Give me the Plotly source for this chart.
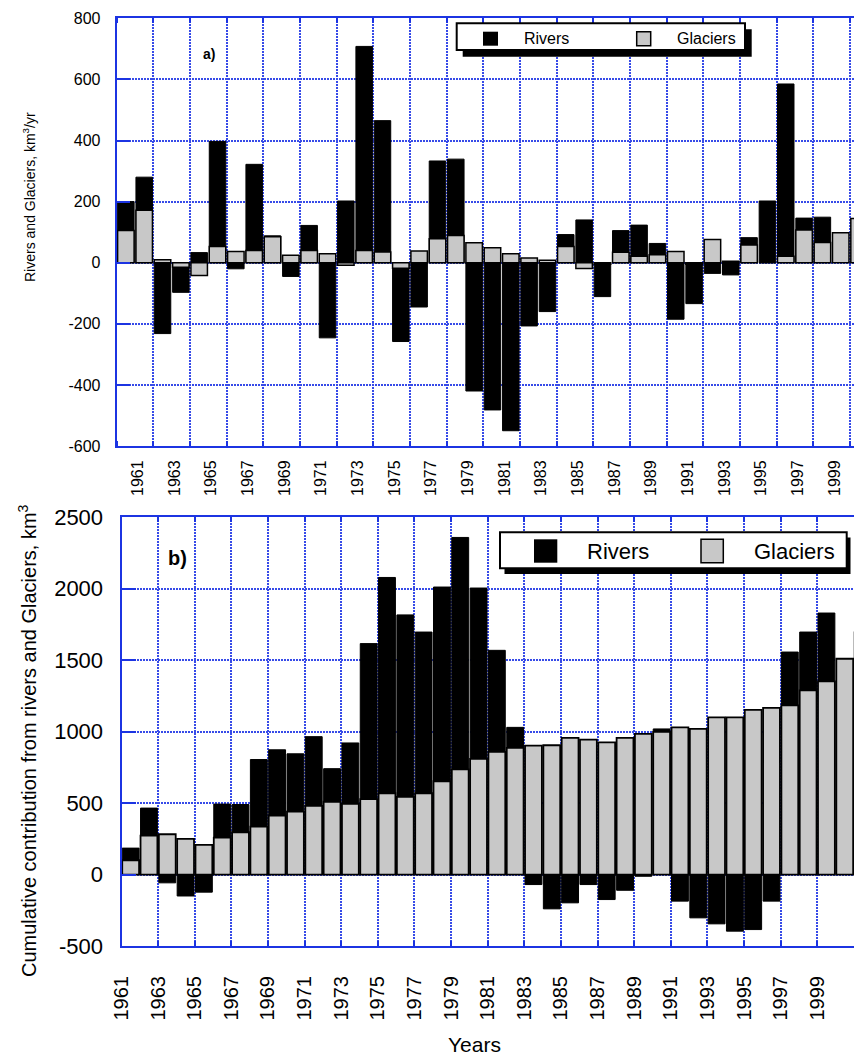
import plotly.graph_objects as go

# ---------------- data ----------------
years = list(range(1961, 2002))

# panel a: annual contributions, km3/yr
rivers_annual = [200, 280, -232, -97, 33, 397, -20, 322, 88, -45,
                 122, -246, 202, 708, 465, -258, -145, 333, 339, -420,
                 -482, -550, -207, -160, 92, 140, -111, 105, 123, 63,
                 -185, -134, -35, -40, 82, 202, 585, 146, 149, None, None]
glaciers_annual = [105, 172, 10, -15, -42, 53, 37, 40, 85, 24,
                   40, 29, -8, 40, 35, -18, 38, 78, 89, 65,
                   49, 29, 15, 8, 53, -19, -5, 34, 21, 26,
                   37, -5, 76, 5, 58, 0, 21, 107, 66, 98, 145]

# panel b: cumulative contributions, km3
rivers_cum = [185, 465, -58, -150, -123, 493, 490, 805, 873, 845,
              965, 741, 921, 1616, 2079, 1817, 1697, 2012, 2359, 2005,
              1569, 1030, -70, -240, -198, -70, -175, -110, -12, 1019,
              -186, -303, -345, -396, -385, -186, 1557, 1697, 1830, None, None]
glaciers_cum = [100, 273, 282, 250, 208, 259, 296, 336, 412, 440,
                481, 509, 495, 528, 569, 544, 569, 653, 736, 810,
                858, 886, 902, 905, 956, 944, 925, 956, 984, 998,
                1030, 1019, 1100, 1100, 1152, 1166, 1184, 1289, 1352, 1510, 1694]

label_years = list(range(1961, 2000, 2))
yticks_a = list(range(-600, 801, 200))
yticks_b = list(range(-500, 2501, 500))

# ---------------- styling ----------------
W, H = 862, 1055
OFF = 8  # page body margin
FONT = "Liberation Sans, Arial, Helvetica, sans-serif"
BLUE = "rgb(28,52,226)"
GRID = "rgb(55,75,232)"
GRAY = "#c8c8c8"
DASH = "2px,1px"


def px(x):
    return (x - OFF) / W


def py(y):
    return 1 - (y - OFF) / H


fig = go.Figure()

fig.add_trace(go.Bar(x=years, y=rivers_annual, name="Rivers", width=0.9,
                     marker=dict(color="black", line=dict(color="black", width=1)),
                     xaxis="x", yaxis="y", showlegend=False))
fig.add_trace(go.Bar(x=years, y=glaciers_annual, name="Glaciers", width=0.9,
                     marker=dict(color=GRAY, line=dict(color="black", width=1.5)),
                     xaxis="x", yaxis="y", showlegend=False))
fig.add_trace(go.Bar(x=years, y=rivers_cum, name="Rivers", width=0.92,
                     marker=dict(color="black", line=dict(color="black", width=1)),
                     xaxis="x2", yaxis="y2", showlegend=False))
fig.add_trace(go.Bar(x=years, y=glaciers_cum, name="Glaciers", width=0.92,
                     marker=dict(color=GRAY, line=dict(color="black", width=1.8)),
                     xaxis="x2", yaxis="y2", showlegend=False))

grid_x = [1960.5 + 2 * k for k in range(21)]

common_line = dict(showline=True, linecolor=BLUE, linewidth=2, zeroline=False)

fig.update_layout(
    width=W, height=H,
    margin=dict(l=0, r=0, t=0, b=0),
    paper_bgcolor="white", plot_bgcolor="white",
    barmode="overlay",
    font=dict(family=FONT, color="black"),
    xaxis=dict(
        domain=[px(116.7), 1.0], anchor="y",
        range=[1960.5, 1960.5 + (W + OFF - 116.7) / 18.33],
        tickmode="array",
        tickvals=[y + 0.65 for y in label_years],
        ticktext=[str(y) for y in label_years],
        ticks="", showgrid=False, tickangle=-90,
        tickfont=dict(size=16, family=FONT),
        ticklabelstandoff=6,
        minor=dict(tickvals=grid_x, ticks="inside", ticklen=5, tickwidth=2,
                   tickcolor=BLUE, showgrid=True, gridcolor=GRID,
                   gridwidth=1.6, griddash=DASH),
        mirror="allticks", automargin=False, **common_line),
    yaxis=dict(
        domain=[py(446), py(18.3)], anchor="x",
        range=[-600, 800], tickmode="array", tickvals=yticks_a,
        ticktext=[str(v) for v in yticks_a],
        ticks="inside", ticklen=13, tickwidth=2, tickcolor=BLUE,
        showgrid=True, gridcolor=GRID, gridwidth=1.6, griddash=DASH,
        tickfont=dict(size=16, family=FONT), ticklabelstandoff=11,
        mirror="allticks", automargin=False, **common_line),
    xaxis2=dict(
        domain=[px(121.5), 1.0], anchor="y2",
        range=[1960.5, 1960.5 + (W + OFF - 121.5) / 18.31],
        tickmode="array",
        tickvals=[y - 0.5 for y in label_years],
        ticktext=[str(y) for y in label_years],
        ticks="inside", ticklen=5, tickwidth=2, tickcolor=BLUE,
        showgrid=True, gridcolor=GRID, gridwidth=1.6, griddash=DASH,
        tickangle=-90, tickfont=dict(size=20, family=FONT),
        ticklabelstandoff=20,
        mirror="allticks", automargin=False, **common_line),
    yaxis2=dict(
        domain=[py(946), py(517.3)], anchor="x2",
        range=[-500, 2500], tickmode="array", tickvals=yticks_b,
        ticktext=[str(v) for v in yticks_b],
        ticks="inside", ticklen=14, tickwidth=2, tickcolor=BLUE,
        showgrid=True, gridcolor=GRID, gridwidth=1.6, griddash=DASH,
        tickfont=dict(size=22, family=FONT), ticklabelstandoff=12,
        mirror="allticks", automargin=False, **common_line),
)

annotations = [
    dict(text="Rivers and Glaciers, km<sup>3</sup>/yr", x=px(29), y=py(197),
         textangle=-90, font=dict(size=14, family=FONT)),
    dict(text="Cumulative contribution from rivers and Glaciers, km<sup>3</sup>",
         x=px(27), y=py(741), textangle=-90, font=dict(size=20, family=FONT)),
    dict(text="Years", x=px(474), y=py(1044), font=dict(size=21, family=FONT)),
    dict(text="<b>a)</b>", x=px(209), y=py(54), font=dict(size=14, family=FONT)),
    dict(text="<b>b)</b>", x=px(177), y=py(558), font=dict(size=20, family=FONT)),
    # legend texts
    dict(text="Rivers", x=px(521.7), y=py(38.5), xanchor="left",
         font=dict(size=16, family=FONT)),
    dict(text="Glaciers", x=px(675), y=py(38.5), xanchor="left",
         font=dict(size=16, family=FONT)),
    dict(text="Rivers", x=px(585), y=py(551), xanchor="left",
         font=dict(size=22, family=FONT)),
    dict(text="Glaciers", x=px(751.7), y=py(551), xanchor="left",
         font=dict(size=22, family=FONT)),
]
for a in annotations:
    a.setdefault("xanchor", "center")
    a.update(xref="paper", yref="paper", yanchor="middle", showarrow=False)
fig.update_layout(annotations=annotations)


def rect(x0, y0, x1, y1, fill, line_color="black", lw=0):
    return dict(type="rect", xref="paper", yref="paper",
                x0=px(x0), x1=px(x1), y0=py(y1), y1=py(y0),
                fillcolor=fill, line=dict(color=line_color, width=lw),
                layer="above")


shapes = [
    # legend a
    rect(462.7, 29.3, 751.7, 56.7, "black"),
    rect(456.7, 23.3, 745, 50, "white", "black", 2),
    rect(483, 31.7, 498, 45.7, "black"),
    rect(636.7, 31.7, 650.7, 45.7, GRAY, "black", 1.5),
    # legend b
    rect(504.5, 537.5, 850.5, 574, "black"),
    rect(500, 532.3, 846.7, 568.3, "white", "black", 2),
    rect(534, 539.3, 557.3, 562.7, "black"),
    rect(701, 539.3, 723.3, 562.7, GRAY, "black", 1.5),
]
fig.update_layout(shapes=shapes)

fig.write_html("out.html")
